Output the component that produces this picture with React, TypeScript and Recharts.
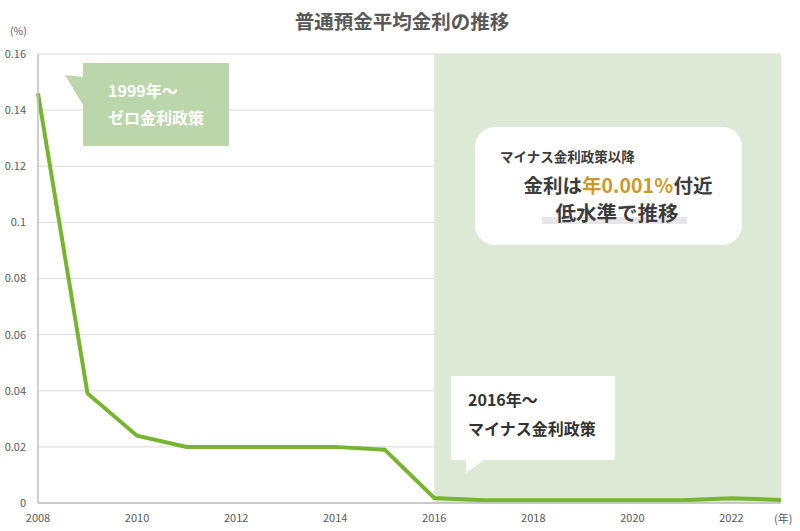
import React from 'react';
import { LineChart, Line, XAxis, YAxis, CartesianGrid, ReferenceArea } from 'recharts';

const years = [2008, 2009, 2010, 2011, 2012, 2013, 2014, 2015, 2016, 2017, 2018, 2019, 2020, 2021, 2022, 2023];
const rates = [0.146, 0.039, 0.024, 0.02, 0.02, 0.02, 0.02, 0.019, 0.0018, 0.001, 0.001, 0.001, 0.001, 0.001, 0.0017, 0.0011];
const xTicks = [2008, 2010, 2012, 2014, 2016, 2018, 2020, 2022];
const yTicks = [0, 0.02, 0.04, 0.06, 0.08, 0.1, 0.12, 0.14, 0.16];
const yTickLabels = ['0', '0.02', '0.04', '0.06', '0.08', '0.1', '0.12', '0.14', '0.16'];
const shadeStart = 2016;
const shadeEnd = 2023;

const data = years.map((y, i) => ({ year: y, rate: rates[i] }));

const FONT = '"Noto Sans CJK JP", "Noto Sans", sans-serif';

export default function App() {
  return (
    <div style={{ position: 'absolute', left: 0, top: 0, width: 800, height: 531, background: '#fff', fontFamily: FONT }}>
      <LineChart width={800} height={531} data={data} margin={{ top: 54, right: 19, bottom: 0, left: 8 }}>
        <CartesianGrid vertical={false} stroke="#d9d9d9" strokeWidth={1} />
        <ReferenceArea x1={shadeStart} x2={shadeEnd} y1={0} y2={0.16} fill="#dce9d5" fillOpacity={1} stroke="none" ifOverflow="visible" />
        <XAxis
          dataKey="year"
          type="number"
          domain={[2008, 2023]}
          ticks={xTicks}
          tickLine={false}
          axisLine={{ stroke: '#bfbfbf', strokeWidth: 1.5 }}
          tick={{ fill: '#595959', fontSize: 11, fontFamily: FONT }}
          tickMargin={5}
          height={28}
          interval={0}
        />
        <YAxis
          type="number"
          domain={[0, 0.16]}
          ticks={yTicks}
          tickFormatter={(v: number) => yTickLabels[yTicks.indexOf(v)] ?? String(v)}
          tickLine={false}
          axisLine={{ stroke: '#bfbfbf', strokeWidth: 1.5 }}
          tick={{ fill: '#595959', fontSize: 11, fontFamily: FONT }}
          tickMargin={6}
          width={30}
          interval={0}
        />
        <Line type="linear" dataKey="rate" stroke="#77b531" strokeWidth={4} dot={false} isAnimationActive={false} />
      </LineChart>
      <svg width={800} height={531} style={{ position: 'absolute', left: 0, top: 0, pointerEvents: 'none' }}>
        <text x={402} y={29} textAnchor="middle" fontSize={19.5} fontWeight="bold" fill="#595959" fontFamily={FONT}>普通預金平均金利の推移</text>
        <text x={10} y={35} fontSize={10.5} fill="#595959" fontFamily={FONT}>(%)</text>
        <text x={774} y={523} fontSize={11} fill="#595959" fontFamily={FONT}>(年)</text>

        <polygon points="83,63 229,63 229,146 83,146 83,105 65,75 83,77" fill="#bcd6ab" />
        <text x={108} y={97} fontSize={16} fontWeight="bold" fill="#ffffff" fontFamily={FONT}>1999年～</text>
        <text x={108} y={124} fontSize={16} fontWeight="bold" fill="#ffffff" fontFamily={FONT}>ゼロ金利政策</text>

        <polygon points="451,376 615,376 615,460 484,460 466,473 466,460 451,460" fill="#ffffff" />
        <text x={468} y={406} fontSize={16} fontWeight="bold" fill="#333333" fontFamily={FONT}>2016年～</text>
        <text x={468} y={435} fontSize={16} fontWeight="bold" fill="#333333" fontFamily={FONT}>マイナス金利政策</text>

        <rect x={475} y={127} width={267} height={118} rx={20} ry={20} fill="#ffffff" />
        <text x={500} y={162} fontSize={13.5} fontWeight="bold" fill="#3c3c3c" fontFamily={FONT}>マイナス金利政策以降</text>
        <text x={618} y={193} textAnchor="middle" fontSize={19.5} fontWeight="bold" fill="#3c3c3c" fontFamily={FONT}>
          金利は<tspan fill="#c9992b">年0.001％</tspan>付近
        </text>
        <rect x={542} y={217} width={145} height={7} fill="#e6e6e6" />
        <text x={617} y={221} textAnchor="middle" fontSize={20.5} fontWeight="bold" fill="#3c3c3c" fontFamily={FONT}>低水準で推移</text>
      </svg>
    </div>
  );
}
